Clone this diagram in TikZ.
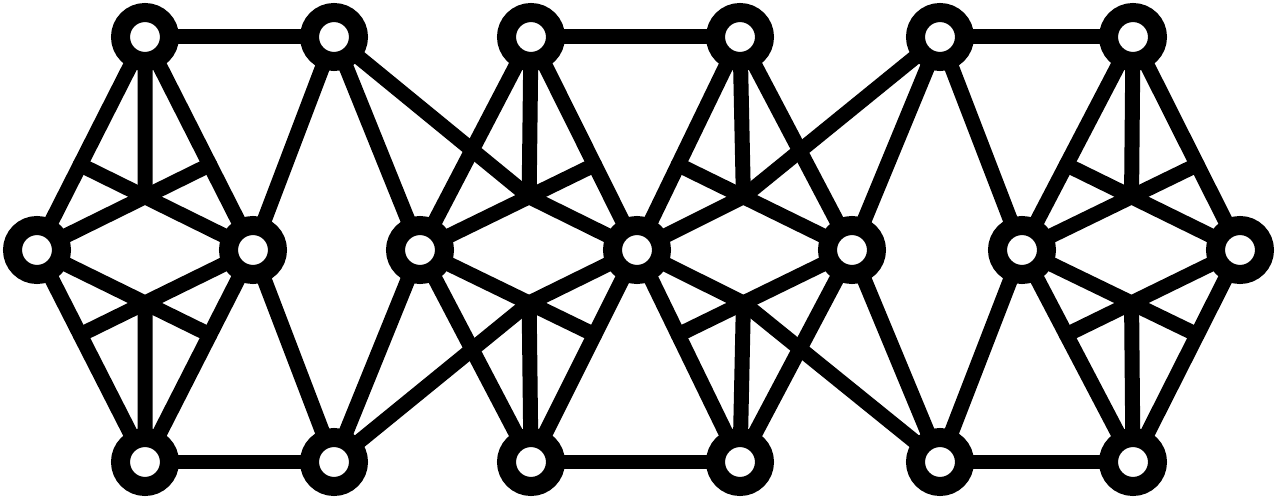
\documentclass[tikz,border=0pt]{standalone}
\usetikzlibrary{calc}
\begin{document}
\begin{tikzpicture}[x=0.02cm,y=-0.02cm,
  hub/.style={circle, draw=black, line width=0.38cm, fill=white, minimum size=0.98cm, inner sep=0pt},
  link/.style={line width=0.30cm, line cap=round, line join=round}]
\useasboundingbox (0,0) rectangle (1276,500);
% positions
\foreach \n/\x in {1/145,2/334,3/531,4/740,5/940,6/1133}{
  \coordinate (t\n) at (\x,37);
  \coordinate (b\n) at (\x,462);
}
\foreach \n/\x in {1/37,2/253,3/420,4/637,5/852,6/1022,7/1240}{
  \coordinate (m\n) at (\x,250);
}
\foreach \u/\l/\r in {1/1/2,3/3/4,4/4/5,6/6/7}{
  \coordinate (EL\u) at ($(t\u)!0.6!(m\l)$);
  \coordinate (ER\u) at ($(t\u)!0.6!(m\r)$);
  \coordinate (FL\u) at ($(b\u)!0.6!(m\l)$);
  \coordinate (FR\u) at ($(b\u)!0.6!(m\r)$);
}
\coordinate (CU1) at (intersection of m1--ER1 and m2--EL1);
\coordinate (CD1) at (intersection of m1--FR1 and m2--FL1);
\coordinate (CU3) at (intersection of m3--ER3 and m4--EL3);
\coordinate (CD3) at (intersection of m3--FR3 and m4--FL3);
\coordinate (CU4) at (intersection of m4--ER4 and m5--EL4);
\coordinate (CD4) at (intersection of m4--FR4 and m5--FL4);
\coordinate (CU6) at (intersection of m6--ER6 and m7--EL6);
\coordinate (CD6) at (intersection of m6--FR6 and m7--FL6);
% connectors
\foreach \u/\l/\r in {1/1/2,2/2/3,3/3/4,4/4/5,5/5/6,6/6/7}{
  \draw[link] (t\u) -- (m\l) -- (b\u) -- (m\r) -- cycle;
}
\foreach \a/\b in {1/2,3/4,5/6}{
  \draw[link] (t\a) -- (t\b);
  \draw[link] (b\a) -- (b\b);
}
\foreach \u in {1,3,4,6}{
  \draw[link] (t\u) -- (CU\u);
  \draw[link] (b\u) -- (CD\u);
}
\foreach \u/\l/\r in {1/1/2,6/6/7}{
  \draw[link] (m\l) -- (ER\u);
  \draw[link] (m\r) -- (EL\u);
  \draw[link] (m\l) -- (FR\u);
  \draw[link] (m\r) -- (FL\u);
}
\draw[link] (m3) -- (ER3);
\draw[link] (m3) -- (FR3);
\draw[link] (t2) -- (CU3) -- (m4);
\draw[link] (b2) -- (CD3) -- (m4);
\draw[link] (m5) -- (EL4);
\draw[link] (m5) -- (FL4);
\draw[link] (t5) -- (CU4) -- (m4);
\draw[link] (b5) -- (CD4) -- (m4);
% nodes
\foreach \n in {1,...,6}{
  \node[hub] (T\n) at (t\n) {};
  \node[hub] (B\n) at (b\n) {};
}
\foreach \n in {1,...,7}{
  \node[hub] (M\n) at (m\n) {};
}
\end{tikzpicture}
\end{document}
